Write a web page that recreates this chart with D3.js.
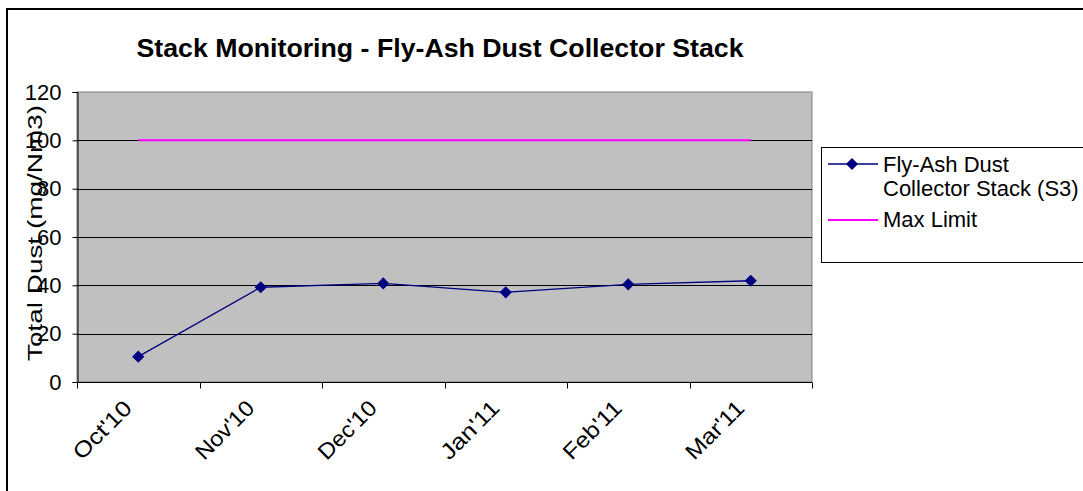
<!DOCTYPE html>
<html>
<head>
<meta charset="utf-8">
<script src="https://cdn.jsdelivr.net/npm/d3@7"></script>
<style>
  body { margin: 0; background: #fff; }
  svg { display: block; font-family: Arial, "Liberation Sans", sans-serif; }
</style>
</head>
<body>
<svg id="chart" width="1083" height="491"></svg>
<script>
// data
var months = ["Oct'10", "Nov'10", "Dec'10", "Jan'11", "Feb'11", "Mar'11"];
var dust = [10.5, 39.2, 40.8, 37.1, 40.4, 41.9];
var maxLimit = [100, 100, 100, 100, 100, 100];
var yTicks = [0, 20, 40, 60, 80, 100, 120];

var svg = d3.select("#chart");
var plotLeft = 77, plotRight = 812, plotTop = 92, plotBottom = 382;

// outer chart border
svg.append("rect")
    .attr("x", 7).attr("y", 9)
    .attr("width", 1100).attr("height", 500)
    .attr("fill", "#fff")
    .attr("stroke", "#000").attr("stroke-width", 2);

var x = d3.scaleBand().domain(months).range([plotLeft, plotRight]);
var y = d3.scaleLinear().domain([0, 120]).range([plotBottom, plotTop]);
var cx = function(d, i) { return x(months[i]) + x.bandwidth() / 2; };

// plot area
svg.append("rect")
    .attr("x", plotLeft).attr("y", plotTop)
    .attr("width", plotRight - plotLeft).attr("height", plotBottom - plotTop)
    .attr("fill", "#c0c0c0")
    .attr("stroke", "#808080").attr("stroke-width", 1);

// gridlines
svg.append("g")
    .selectAll("line")
    .data(yTicks.filter(function(t) { return t > 0 && t < 120; }))
    .enter().append("line")
      .attr("x1", plotLeft).attr("x2", plotRight)
      .attr("y1", function(d) { return Math.round(y(d)) + 0.5; })
      .attr("y2", function(d) { return Math.round(y(d)) + 0.5; })
      .attr("stroke", "#000").attr("stroke-width", 1);

// y axis
var yAxis = svg.append("g")
    .attr("transform", "translate(" + (plotLeft + 0.5) + ",0)")
    .call(d3.axisLeft(y).tickValues(yTicks).tickSize(5).tickPadding(11));
yAxis.select(".domain").attr("stroke", "#000");
yAxis.selectAll(".tick line").attr("stroke", "#000");
yAxis.selectAll("text")
    .attr("font-size", 22).attr("fill", "#000")
    .attr("font-family", "Arial, 'Liberation Sans', sans-serif");

// x axis
var xTickPos = months.map(function(m) { return x(m); }).concat([plotRight]);
var xAxis = svg.append("g").attr("transform", "translate(0," + (plotBottom + 0.5) + ")");
xAxis.append("line")
    .attr("x1", plotLeft).attr("x2", plotRight)
    .attr("stroke", "#000");
xAxis.selectAll(".xt")
    .data(xTickPos)
    .enter().append("line")
      .attr("class", "xt")
      .attr("x1", function(d) { return Math.round(d) + 0.5; })
      .attr("x2", function(d) { return Math.round(d) + 0.5; })
      .attr("y1", 0).attr("y2", 6)
      .attr("stroke", "#000");
xAxis.selectAll(".xl")
    .data(months)
    .enter().append("text")
      .attr("class", "xl")
      .attr("transform", function(d, i) {
        return "translate(" + (cx(d, i) - 5) + ",27) rotate(-45)";
      })
      .attr("text-anchor", "end")
      .attr("font-size", 22)
      .attr("textLength", 73)
      .attr("lengthAdjust", "spacingAndGlyphs")
      .text(function(d) { return d; });

// max limit line
var line = d3.line()
    .x(function(d, i) { return cx(d, i); })
    .y(function(d) { return y(d); });

svg.append("path")
    .datum(maxLimit)
    .attr("d", line)
    .attr("fill", "none")
    .attr("stroke", "#ff00ff").attr("stroke-width", 2);

// dust series
svg.append("path")
    .datum(dust)
    .attr("d", line)
    .attr("fill", "none")
    .attr("stroke", "#000080").attr("stroke-width", 1.3);

var diamond = d3.symbol().type(d3.symbolDiamond2).size(95);
svg.selectAll(".pt")
    .data(dust)
    .enter().append("path")
      .attr("class", "pt")
      .attr("transform", function(d, i) { return "translate(" + cx(d, i) + "," + y(d) + ")"; })
      .attr("d", diamond)
      .attr("fill", "#000080");

// title
svg.append("text")
    .attr("x", 440).attr("y", 57)
    .attr("text-anchor", "middle")
    .attr("font-size", 25).attr("font-weight", "bold")
    .attr("textLength", 607)
    .attr("lengthAdjust", "spacingAndGlyphs")
    .text("Stack Monitoring - Fly-Ash Dust Collector Stack");

// y title
svg.append("text")
    .attr("transform", "translate(42," + ((plotBottom + plotTop) / 2 - 4) + ") rotate(-90)")
    .attr("text-anchor", "middle")
    .attr("font-size", 21)
    .attr("textLength", 256)
    .attr("lengthAdjust", "spacingAndGlyphs")
    .text("Total Dust (mg/Nm3)");

// legend
var lg = svg.append("g");
lg.append("rect")
    .attr("x", 821.5).attr("y", 147.5)
    .attr("width", 300).attr("height", 115)
    .attr("fill", "#fff")
    .attr("stroke", "#000").attr("stroke-width", 1);
lg.append("line")
    .attr("x1", 828).attr("x2", 878).attr("y1", 164).attr("y2", 164)
    .attr("stroke", "#000080").attr("stroke-width", 1.3);
lg.append("path")
    .attr("transform", "translate(852,164)")
    .attr("d", diamond)
    .attr("fill", "#000080");
lg.append("text").attr("x", 883).attr("y", 172).attr("font-size", 22).text("Fly-Ash Dust");
lg.append("text").attr("x", 883).attr("y", 196).attr("font-size", 22).text("Collector Stack (S3)");
lg.append("line")
    .attr("x1", 828).attr("x2", 878).attr("y1", 220).attr("y2", 220)
    .attr("stroke", "#ff00ff").attr("stroke-width", 2);
lg.append("text").attr("x", 883).attr("y", 227).attr("font-size", 22).text("Max Limit");
</script>
</body>
</html>
